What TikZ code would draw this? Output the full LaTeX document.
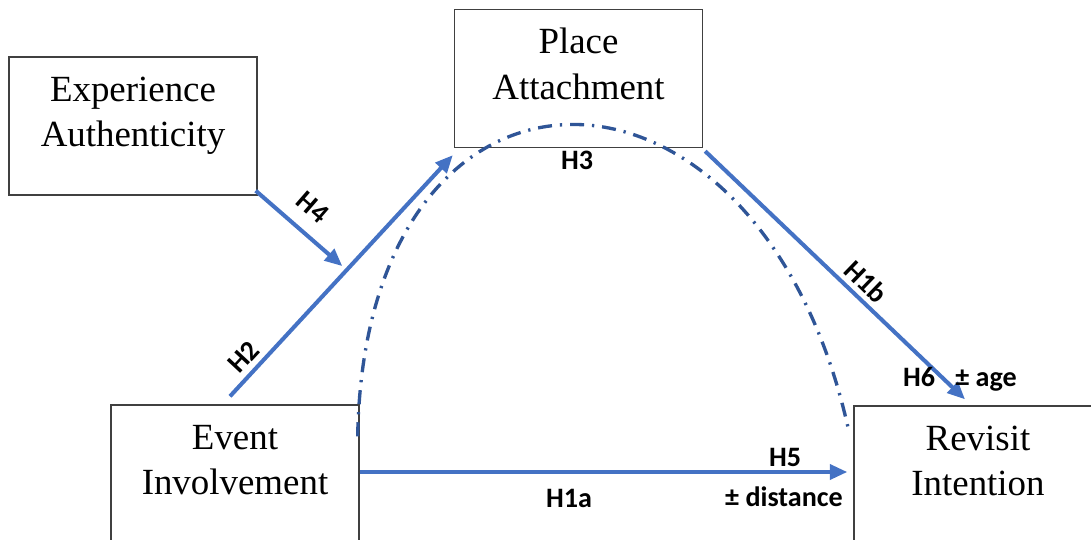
\documentclass[tikz,border=0pt]{standalone}
\usepackage{fontspec}
\setmainfont{Liberation Serif}
\newfontfamily\labfont{Carlito}
\usetikzlibrary{arrows.meta,positioning}
\definecolor{arrowblue}{HTML}{4472C4}
\definecolor{curveblue}{HTML}{2F5597}
\definecolor{boxline}{HTML}{404040}
\tikzset{
  conbox/.style={draw=boxline, line width=0.8pt, minimum width=4.96cm,
    minimum height=2.76cm, inner sep=0pt},
  context/.style={font=\fontsize{21}{26}\selectfont, align=center},
  hyp/.style={font=\labfont\bfseries\fontsize{16}{19}\selectfont, inner sep=1pt},
  arr/.style={-{Triangle[length=10pt,width=8.5pt]}, line width=2.3pt, draw=arrowblue},
  dashdot/.style={line width=1.9pt, draw=curveblue,
    dash pattern=on 8pt off 4.5pt on 1.3pt off 4.5pt}
}
\begin{document}
\begin{tikzpicture}[x=0.02cm,y=-0.02cm]
  \useasboundingbox (0,0) rectangle (1091,540);
  \clip (0,0) rectangle (1091,540);
  % constructs
  \node[conbox] (ea) at (133,126) {};
  \node[conbox] (pa) at (578.5,78.5) {};
  \node[conbox] (ei) at (235,474) {};
  \node[conbox] (ri) at (978,475) {};
  \node[context, yshift=6.3pt] (eatext) at (ea) {\strut Experience\\\strut Authenticity};
  \node[context, yshift=6.3pt] (patext) at (pa) {\strut Place\\\strut Attachment};
  \node[context, yshift=6.3pt] (eitext) at (ei) {\strut Event\\\strut Involvement};
  \node[context, yshift=6.3pt] (ritext) at (ri) {\strut Revisit\\\strut Intention};
  % paths
  \coordinate (h2start) at ([shift={(-5,-8)}]ei.north);
  \coordinate (h2end) at ([shift={(-1,7)}]pa.south west);
  \draw[dashdot] ([shift={(-2,32)}]ei.north east) .. controls (365,20) and (760,22) .. ([shift={(-4,28)}]ri.north west);
  \draw[arr] (h2start) -- (h2end) coordinate[pos=0.54] (h2mid);
  \draw[arr] ([shift={(-2,-5)}]ea.south east) -- ([shift={(-8,0)}]h2mid);
  \draw[arr] ([shift={(2,3)}]pa.south east) -- ([shift={(-13,-6)}]ri.north);
  \draw[arr] ([shift={(0,-2)}]ei.east) -- ([shift={(-6,-3)}]ri.west);
  % hypotheses
  \node[hyp, rotate=-41] (h4) at (313,207) {H4};
  \node[hyp, rotate=47] (h2) at (244,357) {H2};
  \node[hyp] (h3) at (577,160) {H3};
  \node[hyp, rotate=-44] (h1b) at (866,282) {H1b};
  \node[hyp, anchor=base] (h6) at (919,386) {H6};
  \node[hyp, anchor=base] (age) at (986,386) {± age};
  \node[hyp] (h5) at (785,457) {H5};
  \node[hyp] (h1a) at (569,498) {H1a};
  \node[hyp] (dist) at (784,497) {± distance};
\end{tikzpicture}
\end{document}
